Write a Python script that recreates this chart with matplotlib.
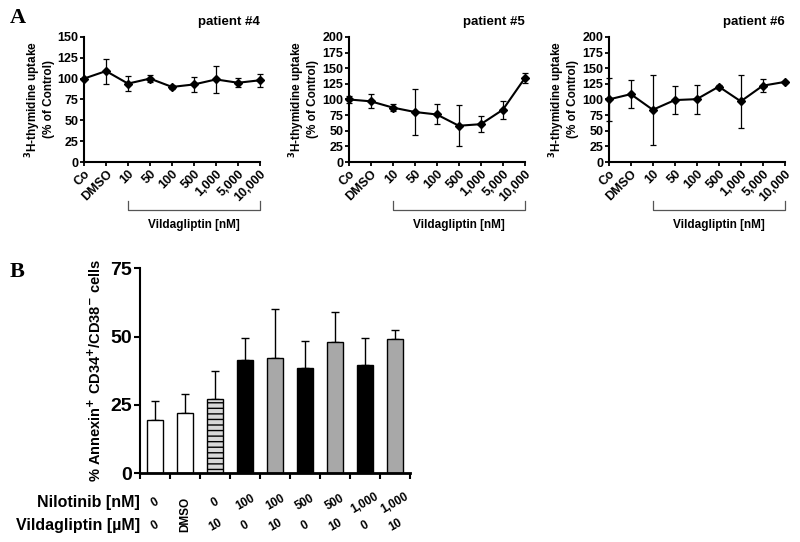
import numpy as np
import matplotlib.pyplot as plt

plt.rcParams['font.family'] = ['Liberation Sans', 'DejaVu Sans']
plt.rcParams['font.weight'] = 'bold'

# ---------------- data ----------------
conc_labels = ['Co', 'DMSO', '10', '50', '100', '500', '1,000', '5,000', '10,000']

p4_mean = [100, 109, 94, 100, 90, 93, 99, 95, 98]
p4_err = [1, 15, 9, 4.5, 2, 9, 16, 5.5, 7.5]

p5_mean = [100, 97, 87, 80, 76, 58, 60.5, 83.5, 134]
p5_err = [5, 11, 5.5, 37, 16, 33, 13, 14, 8]

p6_mean = [100, 108.5, 83.5, 99, 100.5, 120.5, 97, 122, 128]
p6_err = [34, 22, 56, 23, 23, 3, 42, 10, 2]

patients = ['patient #4', 'patient #5', 'patient #6']

bar_vals = [19.5, 22, 27, 41.5, 42, 38.5, 48, 39.5, 49]
bar_err = [7, 7, 10.5, 8, 18, 10, 11, 10, 3.5]
bar_colors = ['white', 'white', '#d8d8d8', 'black', '#a8a8a8', 'black', '#a8a8a8', 'black', '#a8a8a8']
nilotinib = ['0', 'DMSO', '0', '100', '100', '500', '500', '1,000', '1,000']
vildagliptin = ['0', '', '10', '0', '10', '0', '10', '0', '10']

# ---------------- figure ----------------
fig = plt.figure(figsize=(8, 5.42), dpi=100)

a_lefts = [0.105, 0.436, 0.761]
a_ymax = [150, 200, 200]
series = [(p4_mean, p4_err), (p5_mean, p5_err), (p6_mean, p6_err)]

for left, ymax, (m, e), title in zip(a_lefts, a_ymax, series, patients):
    ax = fig.add_axes([left, 0.701, 0.22, 0.231])
    x = np.arange(len(conc_labels))
    ax.errorbar(x, m, yerr=e, color='black', lw=1.5, marker='D', ms=4,
                ecolor='black', elinewidth=0.9, capsize=2, capthick=0.9,
                clip_on=False, zorder=3)
    ax.set_xlim(0, len(conc_labels) - 1)
    ax.set_ylim(0, ymax)
    ax.set_yticks(np.arange(0, ymax + 1, 25))
    ax.set_xticks(x)
    ax.set_xticklabels(conc_labels, rotation=45, ha='right', rotation_mode='anchor',
                       fontsize=9, fontweight='bold')
    for lab in ax.get_yticklabels():
        lab.set_fontsize(9)
        lab.set_fontweight('bold')
    for s in ['top', 'right']:
        ax.spines[s].set_visible(False)
    for s in ['left', 'bottom']:
        ax.spines[s].set_linewidth(1.5)
    ax.tick_params(width=1.3, length=3, pad=1)
    ax.set_ylabel('$^{3}$H-thymidine uptake\n(% of Control)', fontsize=8.5,
                  fontweight='bold', labelpad=2, linespacing=1.0)
    ax.text(1.0, 1.12, title, transform=ax.transAxes, ha='right', va='center',
            fontsize=9.5, fontweight='bold')
    # bracket under concentrations
    tr = ax.get_xaxis_transform()
    ax.plot([2, 2, 8, 8], [-0.31, -0.385, -0.385, -0.31], color='#555555',
            lw=0.9, transform=tr, clip_on=False)
    ax.text(5, -0.5, 'Vildagliptin [nM]', transform=tr, ha='center', va='center',
            fontsize=8.5, fontweight='bold')

fig.text(0.012, 0.967, 'A', family='Liberation Serif', fontsize=16, fontweight='bold',
         va='center')
fig.text(0.012, 0.498, 'B', family='Liberation Serif', fontsize=16, fontweight='bold',
         va='center')

# ---------------- panel B ----------------
axb = fig.add_axes([0.175, 0.127, 0.3375, 0.378])
xb = np.arange(len(bar_vals)) + 0.5
bars = axb.bar(xb, bar_vals, width=0.53, color=bar_colors, edgecolor='black',
               linewidth=1.0, zorder=2)
bars[2].set_hatch('---')
axb.errorbar(xb, bar_vals, yerr=[np.zeros(len(bar_err)), bar_err], fmt='none',
             ecolor='black', elinewidth=1.0, capsize=3, capthick=1.0, zorder=1)
axb.set_xlim(0, len(bar_vals))
axb.set_ylim(0, 75)
axb.set_yticks([0, 25, 50, 75])
axb.set_xticks(np.arange(len(bar_vals) + 1))
axb.set_xticklabels([])
for lab in axb.get_yticklabels():
    lab.set_fontsize(14)
    lab.set_fontweight('bold')
for s in ['top', 'right']:
    axb.spines[s].set_visible(False)
axb.spines['left'].set_linewidth(1.5)
axb.spines['bottom'].set_linewidth(2)
axb.tick_params(width=1.5, length=4, pad=2)
axb.set_ylabel('% Annexin$^{+}$ CD34$^{+}$/CD38$^{-}$ cells', fontsize=10.5,
               fontweight='bold', labelpad=4)

trb = axb.get_xaxis_transform()
axb.text(-0.01, -0.145, 'Nilotinib [nM]', transform=trb, ha='right', va='center',
         fontsize=11.5, fontweight='bold')
axb.text(-0.01, -0.255, 'Vildagliptin [µM]', transform=trb, ha='right', va='center',
         fontsize=11.5, fontweight='bold')
for xi, n, v in zip(xb, nilotinib, vildagliptin):
    if n == 'DMSO':
        axb.text(xi, -0.2, n, transform=trb, ha='center', va='center', rotation=90,
                 fontsize=8.5, fontweight='bold')
        continue
    axb.text(xi, -0.145, n, transform=trb, ha='center', va='center', rotation=30,
             fontsize=8.5, fontweight='bold')
    axb.text(xi, -0.255, v, transform=trb, ha='center', va='center', rotation=30,
             fontsize=8.5, fontweight='bold')

fig.savefig('out.png', dpi=100)
